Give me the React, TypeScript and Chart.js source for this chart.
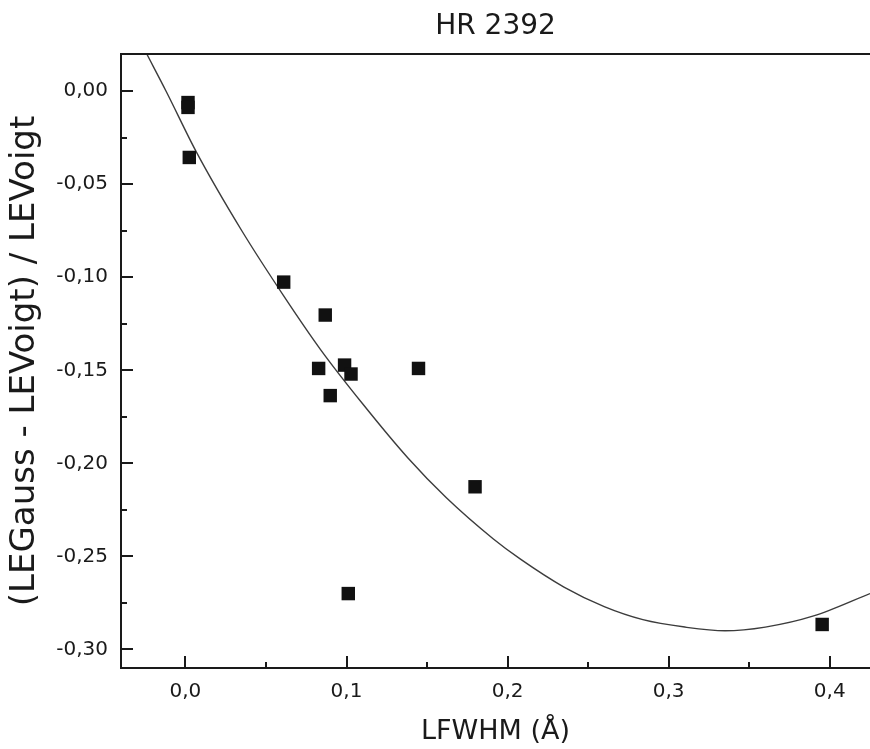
import React, { useEffect, useRef } from 'react';
import { Chart, registerables } from 'chart.js';

Chart.register(...registerables);

const chartTitle = 'HR 2392';
const xAxisTitle = 'LFWHM (Å)';
const yAxisTitle = '(LEGauss - LEVoigt) / LEVoigt';

// measured points (LFWHM, relative difference)
const pointX = [0.0016, 0.0016, 0.0024, 0.061, 0.0868, 0.0827, 0.0988, 0.1028, 0.0899, 0.1447, 0.1798, 0.1011, 0.3953];
const pointY = [-0.0061, -0.0087, -0.0356, -0.1026, -0.1203, -0.149, -0.1472, -0.152, -0.1636, -0.149, -0.2126, -0.27, -0.2866];

// fitted curve
const fitX = [-0.024, -0.012, 0.007, 0.035, 0.061, 0.084, 0.11, 0.138, 0.162, 0.191, 0.208, 0.235, 0.26, 0.284, 0.31, 0.335, 0.36, 0.39, 0.425];
const fitY = [0.02, 0.0, -0.033, -0.075, -0.11, -0.139, -0.168, -0.197, -0.2185, -0.2405, -0.2515, -0.2665, -0.277, -0.284, -0.288, -0.29, -0.288, -0.282, -0.27];

const xMajor = [0, 0.1, 0.2, 0.3, 0.4];
const xMinor = [0.05, 0.15, 0.25, 0.35];
const yMajor = [0, -0.05, -0.1, -0.15, -0.2, -0.25, -0.3];
const yMinor = [-0.025, -0.075, -0.125, -0.175, -0.225, -0.275];

const FONT = 'DejaVu Sans';
const INK = '#1a1a1a';

const fmt = (v: number, d: number) => {
  const r = Math.abs(v) < 1e-9 ? 0 : v;
  return r.toFixed(d).replace('.', ',');
};

const inwardTicks = {
  id: 'inwardTicks',
  afterDraw(chart: any) {
    const { ctx, chartArea } = chart;
    const xs = chart.scales.x;
    const ys = chart.scales.y;
    ctx.save();
    ctx.strokeStyle = INK;
    ctx.lineWidth = 2;
    // top frame
    ctx.beginPath();
    ctx.moveTo(chartArea.left - 1, chartArea.top);
    ctx.lineTo(chartArea.right + 2, chartArea.top);
    ctx.stroke();
    const drawX = (vals: number[], len: number) => {
      vals.forEach((v) => {
        const px = Math.round(xs.getPixelForValue(v));
        ctx.beginPath();
        ctx.moveTo(px, chartArea.bottom);
        ctx.lineTo(px, chartArea.bottom - len);
        ctx.stroke();
      });
    };
    const drawY = (vals: number[], len: number) => {
      vals.forEach((v) => {
        const py = Math.round(ys.getPixelForValue(v));
        ctx.beginPath();
        ctx.moveTo(chartArea.left, py);
        ctx.lineTo(chartArea.left + len, py);
        ctx.stroke();
      });
    };
    drawX(xMajor, 12);
    drawX(xMinor, 6);
    drawY(yMajor, 12);
    drawY(yMinor, 6);
    ctx.restore();
  },
};

export default function App() {
  const ref = useRef<HTMLCanvasElement>(null);
  useEffect(() => {
    const points = pointX.map((x, i) => ({ x, y: pointY[i] }));
    const fit = fitX.map((x, i) => ({ x, y: fitY[i] }));
    const chart = new Chart(ref.current as HTMLCanvasElement, {
      type: 'scatter',
      data: {
        datasets: [
          {
            data: points,
            pointStyle: 'rect',
            pointRadius: 9.5,
            backgroundColor: '#111',
            borderColor: '#111',
            borderWidth: 0,
            order: 1,
          },
          {
            data: fit,
            showLine: true,
            borderColor: '#3c3c3c',
            borderWidth: 1.4,
            pointRadius: 0,
            cubicInterpolationMode: 'monotone',
            fill: false,
            order: 2,
          },
        ],
      } as any,
      options: {
        responsive: false,
        animation: false,
        devicePixelRatio: 1,
        layout: { padding: 0, autoPadding: false },
        plugins: {
          legend: { display: false },
          tooltip: { enabled: false },
          title: {
            display: true,
            text: chartTitle,
            fullSize: false,
            color: INK,
            font: { family: FONT, size: 28, weight: 'normal' },
            padding: { top: 10, bottom: 10.4 },
          },
        },
        scales: {
          x: {
            type: 'linear',
            position: 'bottom',
            min: -0.04,
            max: 0.425,
            afterBuildTicks: (s: any) => {
              s.ticks = xMajor.map((v) => ({ value: v }));
            },
            afterFit: (s: any) => {
              s.height = 81;
            },
            grid: { display: false, drawTicks: false },
            border: { display: true, color: INK, width: 2 },
            ticks: {
              padding: 12,
              color: INK,
              font: { family: FONT, size: 20 },
              maxRotation: 0,
              autoSkip: false,
              callback: (v: any) => fmt(Number(v), 1),
            },
            title: {
              display: true,
              text: xAxisTitle,
              color: INK,
              font: { family: FONT, size: 27 },
              padding: { top: 0, bottom: 1 },
            },
          },
          y: {
            type: 'linear',
            position: 'left',
            min: -0.31,
            max: 0.02,
            afterBuildTicks: (s: any) => {
              s.ticks = yMajor.map((v) => ({ value: v }));
            },
            afterFit: (s: any) => {
              s.width = 121;
            },
            grid: { display: false, drawTicks: false },
            border: { display: true, color: INK, width: 2 },
            ticks: {
              padding: 13,
              color: INK,
              font: { family: FONT, size: 20 },
              autoSkip: false,
              callback: (v: any) => fmt(Number(v), 2),
            },
            title: {
              display: true,
              text: yAxisTitle,
              color: INK,
              font: { family: FONT, size: 34 },
              padding: { top: 5, bottom: 0 },
            },
          },
        },
      } as any,
      plugins: [inwardTicks],
    });
    return () => chart.destroy();
  }, []);
  return (
    <canvas
      ref={ref}
      width={870}
      height={749}
      style={{ position: 'fixed', left: 0, top: 0, width: 870, height: 749, background: '#fff' }}
    />
  );
}
